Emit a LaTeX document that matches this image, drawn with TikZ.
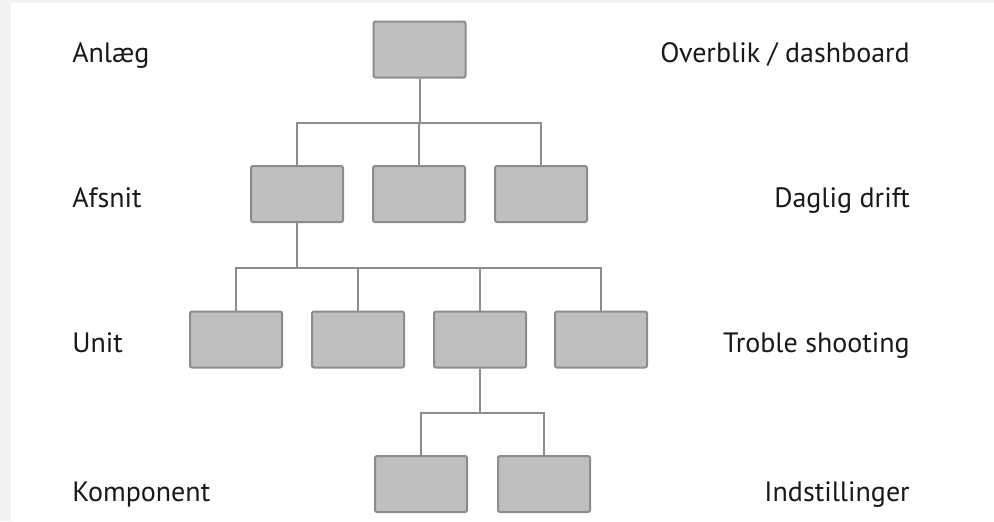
\documentclass[tikz,border=0pt]{standalone}
\usepackage{fontspec}
\setmainfont{PT Sans}
\usetikzlibrary{calc}
\definecolor{boxfill}{HTML}{BFBFBF}
\definecolor{boxline}{HTML}{8C8C8C}
\definecolor{pagegray}{HTML}{F2F2F2}
\begin{document}
\begin{tikzpicture}[x=0.75pt, y=-0.75pt]
	% page and margins
	\fill[pagegray] (0,0) rectangle (994,521);
	\fill[white] (11,3) rectangle (994,521);
	\useasboundingbox (0,0) rectangle (994,521);

	% define styles of the boxes, the lines and the labels
	\tikzstyle{level box} = [draw=boxline, fill=boxfill, line width=1.5pt, rounded corners=1.5pt, minimum width=69pt, minimum height=42pt, inner sep=0pt]
	\tikzstyle{tree line} = [draw=boxline, line width=1.5pt]
	\tikzstyle{level label} = [font=\fontsize{21pt}{25pt}\selectfont, text=black!90, inner sep=0pt]

	% boxes
	\node[level box] (anlaeg) at (419.5,49.5) {};
	\node[level box] (afsnitA) at (297,194) {};
	\node[level box] (afsnitB) at (419,194) {};
	\node[level box] (afsnitC) at (541,194) {};
	\node[level box] (unitA) at (236,339.5) {};
	\node[level box] (unitB) at (358,339.5) {};
	\node[level box] (unitC) at (480,339.5) {};
	\node[level box] (unitD) at (601,339.5) {};
	\node[level box] (kompA) at (421,484) {};
	\node[level box] (kompB) at (544,484) {};

	% connectors
	\foreach \child in {afsnitA, afsnitB, afsnitC}
		\draw[tree line] (anlaeg.south) -- ++(0,44) -| (\child.north);
	\foreach \child in {unitA, unitB, unitC, unitD}
		\draw[tree line] (afsnitA.south) -- ++(0,45) -| (\child.north);
	\foreach \child in {kompA, kompB}
		\draw[tree line] (unitC.south) -- ++(0,44) -| (\child.north);

	% labels on the left
	\node[level label, anchor=base west] (lblAnlaeg) at (72,62) {Anlæg};
	\node[level label, anchor=base west] (lblAfsnit) at (72,207) {Afsnit};
	\node[level label, anchor=base west] (lblUnit) at (72,352) {Unit};
	\node[level label, anchor=base west] (lblKomp) at (72,501) {Komponent};

	% labels on the right
	\node[level label, anchor=base east] (lblOverblik) at (910,62) {Overblik / dashboard};
	\node[level label, anchor=base east] (lblDaglig) at (910,207) {Daglig drift};
	\node[level label, anchor=base east] (lblTroble) at (910,352) {Troble shooting};
	\node[level label, anchor=base east] (lblIndst) at (910,501) {Indstillinger};
\end{tikzpicture}
\end{document}
